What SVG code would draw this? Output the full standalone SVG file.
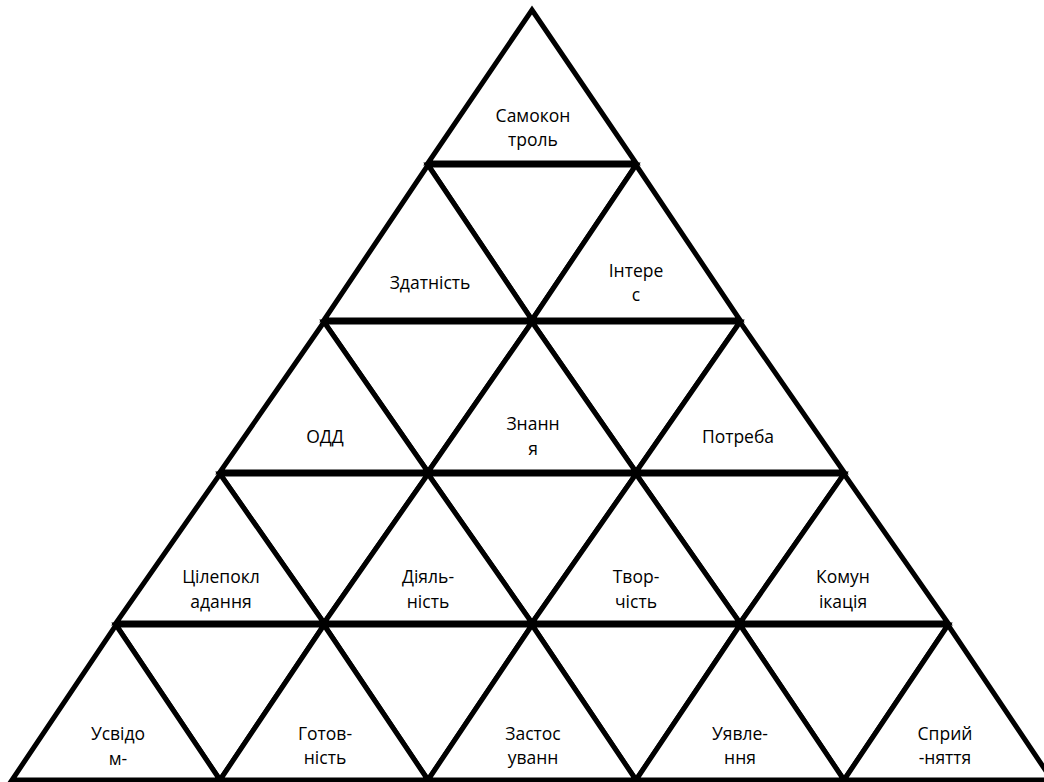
<svg xmlns="http://www.w3.org/2000/svg" width="1044" height="782" viewBox="0 0 1044 782">
<style>
.tri{fill:#fff;stroke:#000;stroke-width:5;stroke-linejoin:miter}
.inv{fill:none;stroke:#000;stroke-width:5;stroke-linejoin:miter}
text{font-family:"Open Sans","Noto Sans","DejaVu Sans",sans-serif;font-size:17.5px;fill:#000;text-anchor:middle}
</style>
<rect width="1044" height="782" fill="#fff"/>
<g id="connectors">
<polygon class="inv" points="428,165 636,165 532,320"/>
<polygon class="inv" points="324,322 532,322 428,472"/>
<polygon class="inv" points="532,322 740,322 636,472"/>
<polygon class="inv" points="220,474 428,474 324,623"/>
<polygon class="inv" points="428,474 636,474 532,623"/>
<polygon class="inv" points="636,474 844,474 740,623"/>
<polygon class="inv" points="116,625 324,625 220,780"/>
<polygon class="inv" points="324,625 532,625 428,780"/>
<polygon class="inv" points="532,625 740,625 636,780"/>
<polygon class="inv" points="740,625 948,625 844,780"/>
</g>
<g id="samokontrol"><polygon class="tri" points="532,10 636,163 428,163"/><text x="533" y="122">Самокон</text><text x="533" y="146">троль</text></g>
<g id="zdatnist"><polygon class="tri" points="428,165 532,320 324,320"/><text x="430" y="289">Здатність</text></g>
<g id="interes"><polygon class="tri" points="636,165 740,320 532,320"/><text x="636" y="277">Інтере</text><text x="636" y="301">с</text></g>
<g id="odd"><polygon class="tri" points="324,322 428,472 220,472"/><text x="325" y="443">ОДД</text></g>
<g id="znannia"><polygon class="tri" points="532,322 636,472 428,472"/><text x="533" y="430">Знанн</text><text x="533" y="455">я</text></g>
<g id="potreba"><polygon class="tri" points="740,322 844,472 636,472"/><text x="738" y="443">Потреба</text></g>
<g id="tsilepokladannia"><polygon class="tri" points="220,474 324,623 116,623"/><text x="221" y="583">Цілепокл</text><text x="221" y="608">адання</text></g>
<g id="diialnist"><polygon class="tri" points="428,474 532,623 324,623"/><text x="428" y="583">Діяль-</text><text x="428" y="608">ність</text></g>
<g id="tvorchist"><polygon class="tri" points="636,474 740,623 532,623"/><text x="636" y="583">Твор-</text><text x="636" y="608">чість</text></g>
<g id="komunikatsiia"><polygon class="tri" points="844,474 948,623 740,623"/><text x="843" y="583">Комун</text><text x="843" y="608">ікація</text></g>
<g id="usvidom"><polygon class="tri" points="116,625 220,780 12,780"/><text x="118" y="740">Усвідо</text><text x="118" y="765">м-</text></g>
<g id="gotovnist"><polygon class="tri" points="324,625 428,780 220,780"/><text x="325" y="740">Готов-</text><text x="325" y="764">ність</text></g>
<g id="zastosuvann"><polygon class="tri" points="532,625 636,780 428,780"/><text x="533" y="740">Застос</text><text x="533" y="764">уванн</text></g>
<g id="uiavlennia"><polygon class="tri" points="740,625 844,780 636,780"/><text x="740" y="740">Уявле-</text><text x="740" y="764">ння</text></g>
<g id="spryiniattia"><polygon class="tri" points="948,625 1052,780 844,780"/><text x="945" y="740">Сприй</text><text x="945" y="764">-няття</text></g>
</svg>
